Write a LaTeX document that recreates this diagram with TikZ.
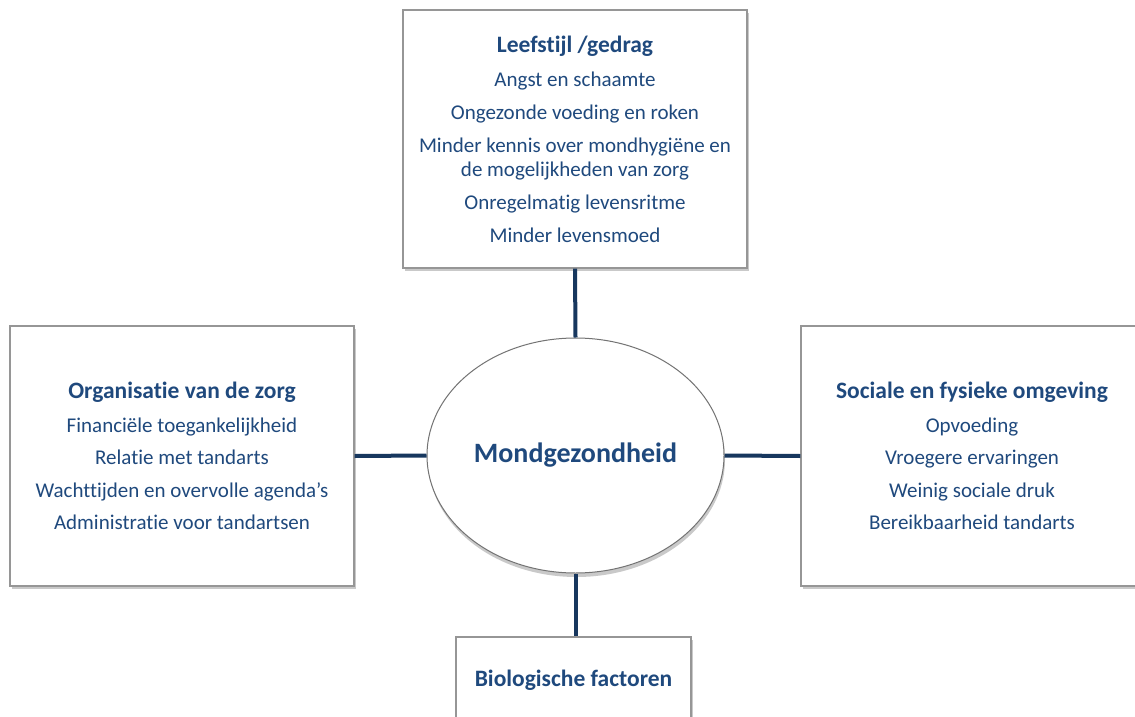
\documentclass[tikz,border=0pt]{standalone}
\usepackage{fontspec}
\setmainfont{Carlito}[Ligatures=NoCommon]
\usetikzlibrary{shadows}
\definecolor{txtblue}{RGB}{31,73,125}
\definecolor{lineblue}{RGB}{23,55,94}
\definecolor{boxgray}{RGB}{150,150,150}
\tikzset{
  box/.style={draw=boxgray, line width=1.2pt, fill=white, rectangle, inner sep=0pt,
    align=center, text=txtblue, font=\fontsize{21}{24}\selectfont,
    drop shadow={shadow xshift=1.5pt, shadow yshift=-3pt, opacity=0.35, fill=black!60}},
  centre/.style={draw=black!55, line width=1pt, fill=white, ellipse, inner sep=0pt,
    minimum width=297pt, minimum height=235pt, text=txtblue,
    font=\fontsize{28}{32}\selectfont\bfseries,
    drop shadow={shadow xshift=1pt, shadow yshift=-4pt, opacity=0.35, fill=black!60}},
  link/.style={draw=lineblue, line width=4pt},
}
\newcommand{\hd}[1]{{\fontsize{23.5}{26}\selectfont\bfseries #1}}
\usetikzlibrary{shapes.geometric}
\begin{document}
\begin{tikzpicture}[x=1pt,y=-1pt]
\useasboundingbox[fill=white] (0,0) rectangle (1135,717);
\node[box, minimum width=344pt, minimum height=258pt] (top) at (575,139)
  {\hd{Leefstijl /gedrag}\\[10pt]
   Angst en schaamte\\[9pt]
   Ongezonde voeding en roken\\[9pt]
   Minder kennis over mondhygiëne en\\
   de mogelijkheden van zorg\\[9pt]
   Onregelmatig levensritme\\[9pt]
   Minder levensmoed};
\node[box, minimum width=344pt, minimum height=260pt] (left) at (182,456)
  {\hd{Organisatie van de zorg}\\[10pt]
   Financiële toegankelijkheid\\[8.5pt]
   Relatie met tandarts\\[8.5pt]
   Wachttijden en overvolle agenda’s\\[8.5pt]
   Administratie voor tandartsen};
\node[box, minimum width=342pt, minimum height=260pt] (right) at (972,456)
  {\hd{Sociale en fysieke omgeving}\\[10pt]
   Opvoeding\\[8.5pt]
   Vroegere ervaringen\\[8.5pt]
   Weinig sociale druk\\[8.5pt]
   Bereikbaarheid tandarts};
\node[box, minimum width=235pt, minimum height=86pt] (bot) at (573.5,680)
  {\hd{Biologische factoren}};
\node[centre] (mid) at (575.5,455.5) {Mondgezondheid};
\draw[link] (top.south) -- (mid.north);
\draw[link] (mid.west) -- (left.east);
\draw[link] (mid.east) -- (right.west);
\draw[link] (mid.south) -- (mid.south |- bot.north);
\end{tikzpicture}
\end{document}
